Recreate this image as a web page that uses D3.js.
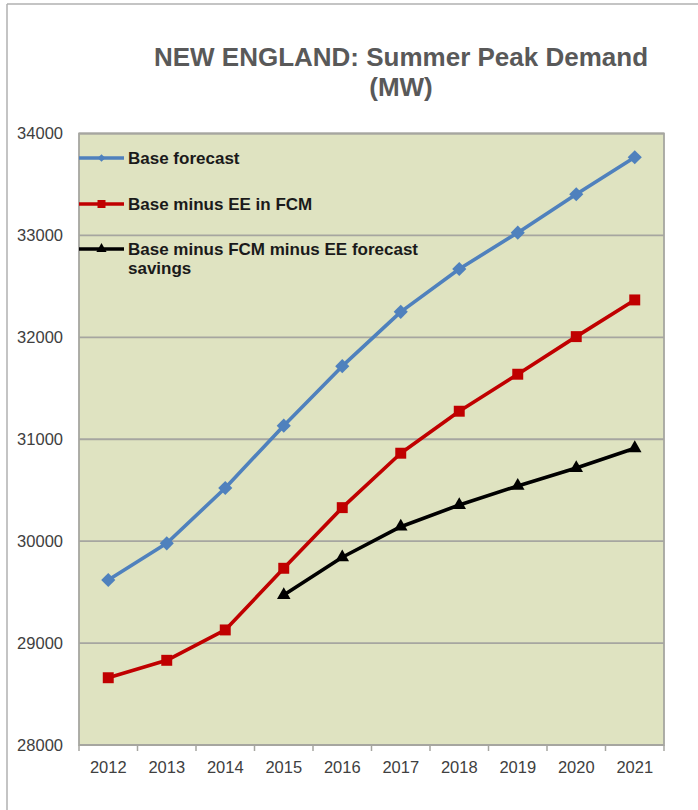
<!DOCTYPE html>
<html>
<head>
<meta charset="utf-8">
<script src="https://cdn.jsdelivr.net/npm/d3@7"></script>
<style>
  html, body { margin: 0; padding: 0; background: #fff; }
  svg { display: block; font-family: "Liberation Sans", Arial, sans-serif; }
</style>
</head>
<body>
<svg id="chart" width="698" height="810"></svg>
<script>
// Summer peak demand forecast for New England, MW
const years = ["2012","2013","2014","2015","2016","2017","2018","2019","2020","2021"];
const baseForecast = [29619, 29979, 30522, 31133, 31717, 32250, 32671, 33027, 33404, 33767];
const baseMinusEE = [28660, 28831, 29129, 29734, 30329, 30863, 31275, 31638, 32007, 32367];
const baseMinusFCM = [null, null, null, 29472, 29842, 30142, 30355, 30542, 30718, 30912];
const yTicks = [28000, 29000, 30000, 31000, 32000, 33000, 34000];

const seriesNames = ["Base forecast", "Base minus EE in FCM", "Base minus FCM minus EE forecast savings"];
const seriesColors = ["#4F81BD", "#C00000", "#000000"];

// Marker shapes: diamond is a square turned 45 degrees
const diamond = {
  draw(ctx, size) {
    const r = Math.sqrt(size / 2);
    ctx.moveTo(0, -r); ctx.lineTo(r, 0); ctx.lineTo(0, r); ctx.lineTo(-r, 0); ctx.closePath();
  }
};
const seriesShapes = [diamond, d3.symbolSquare, d3.symbolTriangle];

const svg = d3.select("#chart");
const plot = { left: 79, right: 664, top: 133.5, bottom: 745 };

// Chart-area frame (left and top edges)
svg.append("line").attr("x1", 7).attr("x2", 7).attr("y1", 4).attr("y2", 810)
  .attr("stroke", "#b0b0b0").attr("stroke-width", 1.5);
svg.append("line").attr("x1", 7).attr("x2", 698).attr("y1", 4).attr("y2", 4)
  .attr("stroke", "#b0b0b0").attr("stroke-width", 1.5);

const x = d3.scaleBand().domain(years).range([plot.left, plot.right]);
const y = d3.scaleLinear().domain([28000, 34000]).range([plot.bottom, plot.top]);

// Plot background
svg.append("rect")
  .attr("x", plot.left).attr("y", plot.top)
  .attr("width", plot.right - plot.left).attr("height", plot.bottom - plot.top)
  .attr("fill", "#DFE3C1");

// Horizontal gridlines
svg.append("g").selectAll("line").data(yTicks.slice(1)).join("line")
  .attr("x1", plot.left).attr("x2", plot.right)
  .attr("y1", d => y(d)).attr("y2", d => y(d))
  .attr("stroke", "#a6a6a0").attr("stroke-width", 1.8);

// Plot border
svg.append("rect")
  .attr("x", plot.left).attr("y", plot.top)
  .attr("width", plot.right - plot.left).attr("height", plot.bottom - plot.top)
  .attr("fill", "none").attr("stroke", "#a6a6a0").attr("stroke-width", 1.8);

// Y axis labels
const yAxis = d3.axisLeft(y).tickValues(yTicks).tickSize(0).tickPadding(16).tickFormat(d3.format("d"));
const gy = svg.append("g").attr("transform", `translate(${plot.left},0)`).call(yAxis);
gy.select(".domain").remove();
gy.selectAll("text").attr("font-size", 16.5).attr("fill", "#404040")
  .attr("font-family", "'Liberation Sans', Arial, sans-serif");

// X axis: ticks at category boundaries, labels centred in each band
const gx = svg.append("g").attr("transform", `translate(0,${plot.bottom})`);
gx.append("line").attr("x1", plot.left).attr("x2", plot.right)
  .attr("stroke", "#a6a6a0").attr("stroke-width", 1.8);
const bounds = years.map(yr => x(yr)).concat([plot.right]);
gx.selectAll("line.tick").data(bounds).join("line").attr("class", "tick")
  .attr("x1", d => d).attr("x2", d => d).attr("y1", 0).attr("y2", 6)
  .attr("stroke", "#a6a6a0").attr("stroke-width", 1.5);
gx.selectAll("text").data(years).join("text")
  .attr("x", d => x(d) + x.bandwidth() / 2).attr("y", 28)
  .attr("text-anchor", "middle").attr("font-size", 16.5).attr("fill", "#404040")
  .text(d => d);

// Series lines and markers
const allSeries = [baseForecast, baseMinusEE, baseMinusFCM];
const line = d3.line()
  .defined(d => d.v !== null)
  .x(d => x(d.yr) + x.bandwidth() / 2)
  .y(d => y(d.v));
const markerSizes = [100, 120, 80];

allSeries.forEach((vals, i) => {
  const pts = years.map((yr, j) => ({ yr, v: vals[j] }));
  svg.append("path").datum(pts)
    .attr("d", line).attr("fill", "none")
    .attr("stroke", seriesColors[i]).attr("stroke-width", 3.6)
    .attr("stroke-linejoin", "round");
  svg.append("g").selectAll("path").data(pts.filter(p => p.v !== null)).join("path")
    .attr("transform", p => `translate(${x(p.yr) + x.bandwidth() / 2},${y(p.v)})`)
    .attr("d", d3.symbol().type(seriesShapes[i]).size(markerSizes[i]))
    .attr("fill", seriesColors[i]);
});

// Legend
const legendRows = [
  { y: 158, lines: ["Base forecast"] },
  { y: 204, lines: ["Base minus EE in FCM"] },
  { y: 249, lines: ["Base minus FCM minus EE forecast", "savings"] }
];
const legendSizes = [30, 64, 45];
legendRows.forEach((row, i) => {
  const g = svg.append("g");
  g.append("line").attr("x1", 79).attr("x2", 124).attr("y1", row.y).attr("y2", row.y)
    .attr("stroke", seriesColors[i]).attr("stroke-width", 3.6);
  g.append("path").attr("transform", `translate(101.5,${row.y})`)
    .attr("d", d3.symbol().type(seriesShapes[i]).size(legendSizes[i]))
    .attr("fill", seriesColors[i]);
  const t = g.append("text").attr("x", 128).attr("y", row.y + 6)
    .attr("font-size", 17).attr("font-weight", "bold").attr("fill", "#1a1a1a");
  row.lines.forEach((s, k) => {
    t.append("tspan").attr("x", 128).attr("dy", k === 0 ? 0 : 19).text(s);
  });
});

// Title
const title = svg.append("text").attr("text-anchor", "middle")
  .attr("font-size", 26).attr("font-weight", "bold").attr("fill", "#595959");
title.append("tspan").attr("x", 401).attr("y", 66).text("NEW ENGLAND: Summer Peak Demand");
title.append("tspan").attr("x", 401).attr("y", 96).text("(MW)");
</script>
</body>
</html>
